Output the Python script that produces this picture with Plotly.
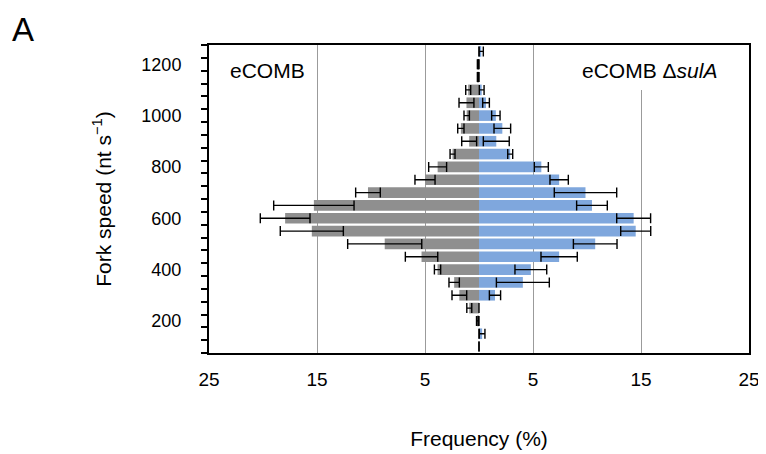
import plotly.graph_objects as go

# Fork-speed bins (nt s^-1), bottom to top
fork_speed = [100, 150, 200, 250, 300, 350, 400, 450, 500, 550, 600, 650,
              700, 750, 800, 850, 900, 950, 1000, 1050, 1100, 1150, 1200, 1250]

# eCOMB frequencies (%) and error (±)
ecomb_freq = [0, 0, 0.15, 0.9, 1.82, 2.3, 3.84, 5.32, 8.73, 15.48, 17.95, 15.29,
              10.28, 5.0, 3.83, 2.45, 0.91, 1.68, 1.14, 1.16, 1.0, 0.1, 0.1, 0]
ecomb_err = [0, 0, 0.08, 0.23, 0.68, 0.48, 0.29, 1.5, 3.43, 2.92, 2.3, 3.72,
             1.14, 0.93, 0.83, 0.23, 0.69, 0.29, 0.25, 0.69, 0.23, 0.05, 0.05, 0]

# eCOMB ΔsulA frequencies (%) and error (±)
sula_freq = [0, 0.29, 0, 0, 1.48, 4.06, 4.8, 7.42, 10.76, 14.51, 14.32, 10.46,
             9.86, 7.42, 5.77, 2.89, 1.6, 2.16, 1.56, 0.65, 0.25, 0, 0, 0.21]
sula_err = [0, 0.26, 0, 0, 0.52, 2.45, 1.47, 1.68, 2.02, 1.39, 1.57, 1.42,
            2.89, 0.85, 0.65, 0.23, 1.2, 0.77, 0.39, 0.31, 0.22, 0, 0, 0.19]

x_tick_vals = [-25, -15, -5, 5, 15, 25]
x_tick_text = ["25", "15", "5", "5", "15", "25"]
y_tick_vals = [200, 400, 600, 800, 1000, 1200]

FONT = "Liberation Sans, Arial, sans-serif"
GRAY = "#8f8f8f"
BLUE = "#7fa7dd"

fig = go.Figure()
fig.add_trace(go.Bar(
    y=fork_speed, x=[-v for v in ecomb_freq], orientation="h",
    marker=dict(color=GRAY, line=dict(width=0)),
    error_x=dict(type="data", array=ecomb_err, color="black", thickness=1.4, width=5),
    name="eCOMB", showlegend=False,
))
fig.add_trace(go.Bar(
    y=fork_speed, x=sula_freq, orientation="h",
    marker=dict(color=BLUE, line=dict(width=0)),
    error_x=dict(type="data", array=sula_err, color="black", thickness=1.4, width=5),
    name="eCOMB ΔsulA", showlegend=False,
))

# The page body has an 8 px margin, so the figure is 8 px smaller and margins shifted.
fig.update_layout(
    width=758, height=446,
    margin=dict(l=201, r=17, t=37, b=101),
    paper_bgcolor="white", plot_bgcolor="white",
    barmode="overlay", bargap=0.17,
    font=dict(family=FONT, color="black"),
    xaxis=dict(
        range=[-25, 25], tickvals=x_tick_vals, ticktext=x_tick_text,
        showgrid=True, gridcolor="#9b9b9b", gridwidth=1.2, zeroline=False,
        showline=True, linecolor="black", linewidth=2, mirror=True,
        ticks="", tickfont=dict(size=19), ticklabelstandoff=8, automargin=False,
        title=dict(text="Frequency (%)", font=dict(size=21), standoff=43),
    ),
    yaxis=dict(
        range=[75, 1275], tickvals=y_tick_vals,
        showgrid=False, zeroline=False,
        showline=True, linecolor="black", linewidth=2, mirror=True,
        ticks="", tickfont=dict(size=18), ticklabelstandoff=22, automargin=False,
        minor=dict(tickmode="linear", tick0=75, dtick=50, ticks="outside",
                   ticklen=6, tickwidth=1.5, tickcolor="black", showgrid=False),
        title=dict(text="Fork speed (nt s<sup>−1</sup>)", font=dict(size=21), standoff=24),
    ),
    shapes=[dict(type="rect", xref="x", yref="y", x0=13.5, x1=16.5, y0=1100, y1=1275,
                 fillcolor="white", line=dict(width=0), layer="between")],
    annotations=[
        dict(text="A", xref="paper", yref="paper", x=-0.369, y=1.118,
             xanchor="left", yanchor="top", showarrow=False, font=dict(size=33)),
        dict(text="eCOMB", xref="paper", yref="paper", x=0.035, y=0.9156,
             xanchor="left", yanchor="middle", showarrow=False, font=dict(size=21)),
        dict(text="eCOMB Δ<i>sulA</i>", xref="paper", yref="paper", x=0.815, y=0.9156,
             xanchor="center", yanchor="middle", showarrow=False, font=dict(size=21)),
    ],
)

fig.write_html("out.html")
